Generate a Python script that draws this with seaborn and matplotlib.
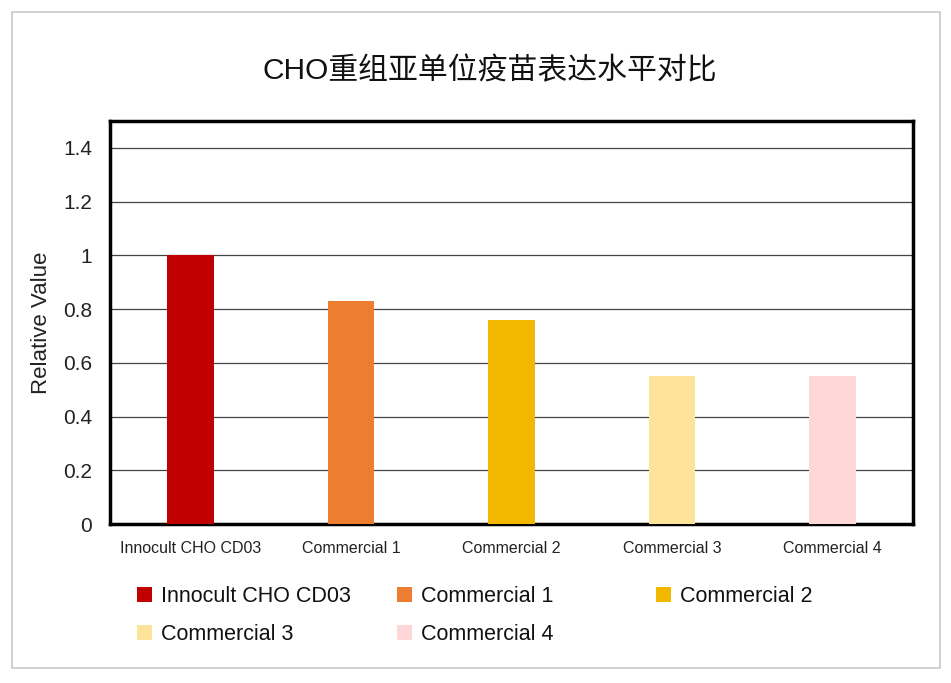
import matplotlib
matplotlib.use("Agg")
import matplotlib.pyplot as plt
from matplotlib.patches import Rectangle
import seaborn as sns
import pandas as pd

categories = ["Innocult CHO CD03", "Commercial 1", "Commercial 2", "Commercial 3", "Commercial 4"]
values = [1.0, 0.83, 0.76, 0.55, 0.55]
colors = ["#C00000", "#ED7D31", "#F2B800", "#FDE49A", "#FFD7D9"]
yticks = [0, 0.2, 0.4, 0.6, 0.8, 1.0, 1.2, 1.4]
ytick_labels = ["0", "0.2", "0.4", "0.6", "0.8", "1", "1.2", "1.4"]
title = "CHO重组亚单位疫苗表达水平对比"
ylabel = "Relative Value"

sns.set_theme(style="white")
plt.rcParams["font.family"] = ["Liberation Sans", "Noto Sans CJK SC", "DejaVu Sans"]

df = pd.DataFrame({"cat": categories, "val": values})

fig = plt.figure(figsize=(9.51, 6.83), dpi=100)
fig.patch.set_facecolor("white")
ax = fig.add_axes([110 / 951, 1 - 524 / 683, (913 - 110) / 951, (524 - 121) / 683])

sns.barplot(data=df, x="cat", y="val", hue="cat", palette=colors, order=categories,
            hue_order=categories, width=0.29, ax=ax, legend=False, zorder=3,
            edgecolor="none", saturation=1)

ax.set_ylim(0, 1.5)
ax.set_yticks(yticks)
ax.set_yticklabels(ytick_labels, fontsize=15, color="#222222")
ax.tick_params(axis="both", length=0)
ax.tick_params(axis="y", pad=13)
ax.tick_params(axis="x", pad=12, labelsize=11.5, labelcolor="#222222")
ax.set_xlabel("")
ax.set_ylabel(ylabel, fontsize=16, color="#222222", labelpad=8)
ax.yaxis.grid(True, color="#444444", linewidth=0.9, zorder=0)
ax.xaxis.grid(False)
ax.set_axisbelow(True)
for s in ax.spines.values():
    s.set_visible(True)
    s.set_color("black")
    s.set_linewidth(2.5)

fig.text(490 / 951, 1 - 71 / 683, title, ha="center", va="center", fontsize=21.5,
         family=["Liberation Sans", "Noto Sans CJK SC", "DejaVu Sans"], color="#111111")

# legend, laid out in three columns like the reference
handles = [Rectangle((0, 0), 1, 1, facecolor=c, edgecolor="none") for c in colors]
col_x = [137 / 951, 397 / 951, 656 / 951]
columns = [[0, 3], [1, 4], [2]]
for cx, idxs in zip(col_x, columns):
    leg = fig.legend([handles[i] for i in idxs], [categories[i] for i in idxs],
                     loc="upper left", bbox_to_anchor=(cx, 1 - 586 / 683),
                     frameon=False, fontsize=15.5, handlelength=0.7, handleheight=0.7,
                     handletextpad=0.4, labelspacing=0.8, borderpad=0, borderaxespad=0)
    for t in leg.get_texts():
        t.set_color("#111111")

# outer frame
fig.add_artist(Rectangle((12 / 951, 1 - 668 / 683), (940 - 12) / 951, (668 - 12) / 683,
                         transform=fig.transFigure, fill=False, edgecolor="#C8C8C8",
                         linewidth=1.2))

fig.savefig("out.png", dpi=100, facecolor="white")
